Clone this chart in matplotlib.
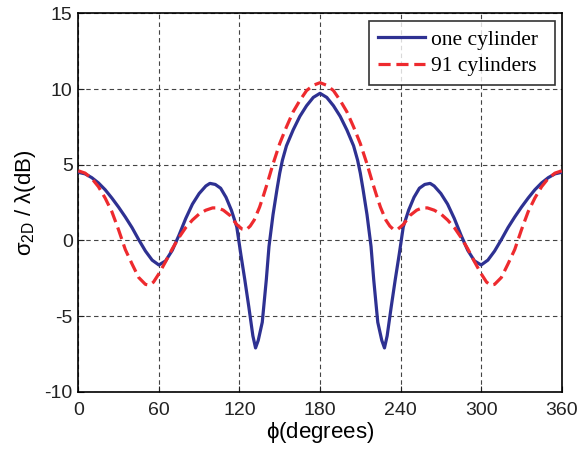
import numpy as np
import matplotlib
matplotlib.use('Agg')
import matplotlib.pyplot as plt

# one cylinder (solid blue)
phiOne = [0, 5, 10, 15, 20, 25, 30, 35, 40, 45, 50, 55, 60, 65, 70, 75, 80, 85, 90, 95,
          98, 102, 106, 110, 114, 118, 121, 124, 127, 130, 132, 134, 137, 140, 142, 145,
          148, 150, 152, 155, 160, 165, 170, 175, 180, 185, 190, 195, 200, 205, 208, 210,
          212, 215, 218, 220, 223, 226, 228, 230, 233, 236, 239, 242, 246, 250, 254, 258,
          262, 265, 270, 275, 280, 285, 290, 295, 300, 305, 310, 315, 320, 325, 330, 335,
          340, 345, 350, 355, 360]
rcsOne = [4.50, 4.40, 4.15, 3.80, 3.35, 2.80, 2.20, 1.55, 0.85, 0.05, -0.70, -1.30, -1.62,
          -1.35, -0.65, 0.35, 1.45, 2.40, 3.10, 3.60, 3.77, 3.70, 3.45, 2.85, 2.00, 0.90,
          -0.90, -2.60, -4.40, -6.30, -7.10, -6.60, -5.40, -2.60, -0.40, 1.70, 3.40, 4.45,
          5.30, 6.25, 7.30, 8.20, 8.90, 9.45, 9.72,
          9.45, 8.90, 8.20, 7.30, 6.25, 5.30, 4.45, 3.40, 1.70, -0.40, -2.60, -5.40, -6.60,
          -7.10, -6.30, -4.40, -2.60, -0.90, 0.90, 2.00, 2.85, 3.45, 3.70, 3.77, 3.60, 3.10,
          2.40, 1.45, 0.35, -0.65, -1.35, -1.62, -1.30, -0.70, 0.05, 0.85, 1.55, 2.20, 2.80,
          3.35, 3.80, 4.15, 4.40, 4.50]

# 91 cylinders (dashed red)
phiMany = [0, 5, 10, 15, 20, 25, 30, 35, 40, 45, 50, 53, 56, 60, 65, 70, 75, 80, 85, 90, 95,
           100, 104, 108, 113, 118, 122, 125, 128, 131, 135, 138, 141, 145, 150, 155, 160,
           165, 170, 175, 180, 185, 190, 195, 200, 205, 210, 215, 219, 222, 225, 229, 232,
           235, 238, 242, 247, 252, 256, 260, 265, 270, 275, 280, 285, 290, 295, 300, 304,
           307, 310, 315, 320, 325, 330, 335, 340, 345, 350, 355, 360]
rcsMany = [4.60, 4.45, 4.10, 3.55, 2.80, 1.90, 0.70, -0.60, -1.55, -2.45, -2.90, -2.95, -2.75,
           -2.20, -1.40, -0.55, 0.20, 0.85, 1.35, 1.75, 2.00, 2.15, 2.15, 2.00, 1.65, 1.05,
           0.75, 0.70, 0.95, 1.35, 2.20, 3.00, 3.85, 5.05, 6.40, 7.50, 8.50, 9.25, 9.90,
           10.25, 10.42,
           10.25, 9.90, 9.25, 8.50, 7.50, 6.40, 5.05, 3.85, 3.00, 2.20, 1.35, 0.95, 0.70,
           0.75, 1.05, 1.65, 2.00, 2.15, 2.15, 2.00, 1.75, 1.35, 0.85, 0.20, -0.55, -1.40,
           -2.20, -2.75, -2.95, -2.90, -2.45, -1.55, -0.60, 0.70, 1.90, 2.80, 3.55, 4.10,
           4.45, 4.60]

xTicks = [0, 60, 120, 180, 240, 300, 360]
yTicks = [-10, -5, 0, 5, 10, 15]
labels = ['one cylinder', '91 cylinders']

plt.rcParams['font.family'] = ['Liberation Sans', 'DejaVu Sans']
plt.rcParams['mathtext.fontset'] = 'custom'
plt.rcParams['mathtext.rm'] = 'Liberation Sans'
plt.rcParams['mathtext.it'] = 'Liberation Sans'
plt.rcParams['axes.unicode_minus'] = False

fig = plt.figure(figsize=(5.8, 4.53), dpi=100)
ax = fig.add_axes([0.135, 0.135, 0.8335, 0.8355])

ax.plot(phiOne, rcsOne, color='#2e3192', lw=2.3, label=labels[0], zorder=3)
ax.plot(phiMany, rcsMany, color='#ee2a2e', lw=2.3, ls=(0, (3.8, 1.8)), label=labels[1], zorder=4)

ax.set_xlim(0, 360)
ax.set_ylim(-10, 15)
ax.set_xticks(xTicks)
ax.set_yticks(yTicks)
ax.tick_params(direction='in', length=4, width=0.8, labelsize=14, colors='#222222')
ax.tick_params(axis='x', pad=7)
ax.tick_params(axis='y', pad=4)
ax.grid(True, color='#444444', ls=(0, (4, 3)), lw=0.8)
for sp in ax.spines.values():
    sp.set_linewidth(1.2)

ax.set_xlabel(r'$\phi$(degrees)', fontsize=16, labelpad=1)
ax.set_ylabel(r'$\sigma_{\mathrm{2D}}$ / $\lambda$(dB)', fontsize=16, labelpad=5)

leg = ax.legend(loc='upper left', bbox_to_anchor=(0.602, 0.0, 0.384, 0.980), mode='expand',
                prop={'family': 'Liberation Serif', 'size': 15.5},
                frameon=True, fancybox=False, edgecolor='black', borderaxespad=0.0,
                handlelength=2.2, handletextpad=0.25, labelspacing=0.3, borderpad=0.4)
leg.get_frame().set_linewidth(1.2)

fig.savefig('out.png', dpi=100)
